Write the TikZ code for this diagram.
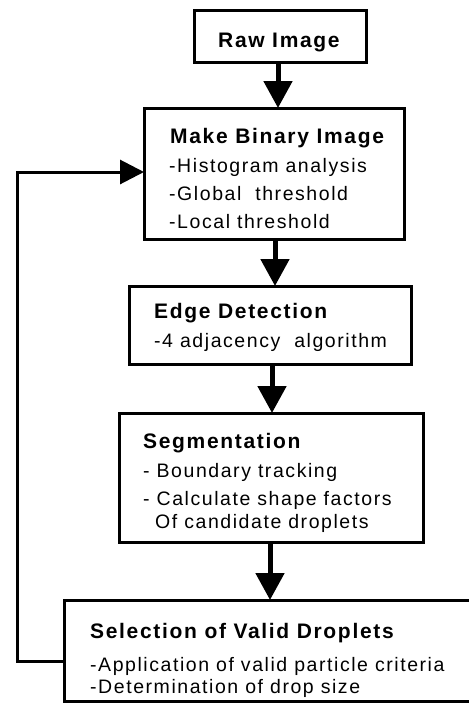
\documentclass[tikz,border=0pt]{standalone}
\usepackage{fontspec}
\setmainfont{Liberation Sans}[LetterSpace=8]
\usetikzlibrary{arrows.meta}
\begin{document}
\begin{tikzpicture}[x=1pt,y=-1pt,
  box/.style={draw, line width=3pt, inner sep=0pt, outer sep=0pt, anchor=north west},
  ttl/.style={anchor=base west, inner sep=0pt, font=\fontsize{21}{25}\selectfont\bfseries},
  txt/.style={anchor=base west, inner sep=0pt, font=\fontsize{19.5}{23}\selectfont},
  flow/.style={line width=5pt, -{Triangle[width=28pt,length=27pt]}},
  back/.style={line width=3pt, line join=miter, -{Triangle[width=24pt,length=24pt]}}
]
\useasboundingbox (0,0) rectangle (469,705);
\clip (0,0) rectangle (469,705);
% boxes
\node[box, minimum width=172pt, minimum height=52pt] (raw) at (194,10) {};
\node[box, minimum width=260pt, minimum height=131pt] (bin) at (144,108) {};
\node[box, minimum width=282pt, minimum height=78pt] (edge) at (129,286) {};
\node[box, minimum width=304pt, minimum height=129pt] (seg) at (119,413) {};
\node[box, minimum width=430pt, minimum height=101pt] (sel) at (64,600) {};
% texts
\node[ttl] (rawT) at (218,47) {Raw Image};
\node[ttl] (binT) at (170,143) {Make Binary Image};
\node[txt] (bin1) at (169,172) {-Histogram analysis};
\node[txt] (bin2) at (169,200) {-Global\ \ threshold};
\node[txt] (bin3) at (169,228) {-Local threshold};
\node[ttl] (edgeT) at (154,318) {Edge Detection};
\node[txt] (edge1) at (154,347) {-4 adjacency\ \ algorithm};
\node[ttl] (segT) at (143,448) {Segmentation};
\node[txt] (seg1) at (143,477) {- Boundary tracking};
\node[txt] (seg2) at (143,505) {- Calculate shape factors};
\node[txt] (seg3) at (155,528) {Of candidate droplets};
\node[ttl] (selT) at (90,638) {Selection of Valid Droplets};
\node[txt] (sel1) at (90,671) {-Application of valid particle criteria};
\node[txt] (sel2) at (90,693) {-Determination of drop size};
% arrows
\draw[flow] (278,0 |- raw.south) -- (278,0 |- bin.north);
\draw[flow] (275,0 |- bin.south) -- (275,0 |- edge.north);
\draw[flow] (272,0 |- edge.south) -- (272,0 |- seg.north);
\draw[flow] (270,0 |- seg.south) -- (270,0 |- sel.north);
\coordinate (fbA) at (17,661);
\coordinate (fbB) at (17,172);
\draw[back] ([yshift=-10.5pt]sel.west) -- (fbA) -- (fbB) -- (bin.west |- fbB);
\end{tikzpicture}
\end{document}
